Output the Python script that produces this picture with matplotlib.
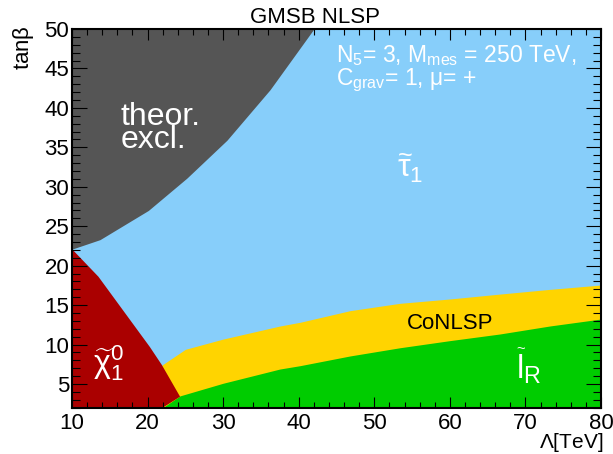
import matplotlib
matplotlib.use("Agg")
import matplotlib.pyplot as plt
from matplotlib.ticker import MultipleLocator

plt.rcParams['font.family'] = ['Liberation Sans', 'DejaVu Sans']
plt.rcParams['mathtext.fontset'] = 'custom'
plt.rcParams['mathtext.rm'] = 'Liberation Sans'
plt.rcParams['mathtext.it'] = 'Liberation Sans'
plt.rcParams['mathtext.bf'] = 'Liberation Sans:bold'

# plot range (Lambda in TeV, tan beta)
lam_min, lam_max = 10, 80
tb_min, tb_max = 2, 50

# theoretically excluded region: lower edge
theor_x = [10, 13.7, 20.1, 25.2, 30.5, 36.2, 42.0]
theor_y = [22.1, 23.3, 27.0, 31.1, 35.9, 42.3, 50.0]

# neutralino NLSP region: upper/right edge
chi_x = [10, 13.5, 20.3, 21.9, 24.3, 22.0]
chi_y = [22.1, 18.6, 9.7, 7.4, 3.4, 2.0]

# co-NLSP region: upper edge
co_x = [21.9, 25.0, 30.0, 37.5, 40.2, 46.8, 53.4, 60.0, 66.6, 73.25, 80]
co_y = [7.4, 9.4, 10.7, 12.35, 12.83, 14.3, 15.23, 15.78, 16.4, 17.0, 17.55]

# slepton NLSP region: upper edge
sl_x = [22.0, 24.3, 30.0, 37.5, 40.2, 46.8, 53.4, 60.0, 66.6, 73.25, 80]
sl_y = [2.0, 3.5, 5.1, 6.9, 7.33, 8.56, 9.6, 10.5, 11.34, 12.36, 13.24]

c_stau = '#87cefa'
c_theor = '#555555'
c_chi = '#aa0000'
c_co = '#ffd400'
c_sl = '#00cc00'

fig = plt.figure(figsize=(6.13, 4.54), dpi=100)
ax = fig.add_axes([72/613, 1 - 407.7/454, 529/613, 378.7/454])

ax.fill_between([lam_min, lam_max], tb_min, tb_max, color=c_stau, lw=0)
ax.fill_between(co_x, co_y, tb_min, color=c_co, lw=0)
ax.fill_between(sl_x, sl_y, tb_min, color=c_sl, lw=0)
ax.fill(chi_x + [lam_min], chi_y + [tb_min], color=c_chi, lw=0)
ax.fill_between(theor_x, theor_y, tb_max, color=c_theor, lw=0)

ax.set_xlim(lam_min, lam_max)
ax.set_ylim(tb_min, tb_max)

ax.xaxis.set_major_locator(MultipleLocator(10))
ax.xaxis.set_minor_locator(MultipleLocator(2))
ax.yaxis.set_major_locator(MultipleLocator(5))
ax.yaxis.set_minor_locator(MultipleLocator(1))
ax.tick_params(which='both', direction='in', top=True, right=True,
               color='black', width=0.8, labelsize=16)
ax.tick_params(axis='x', which='major', length=8, pad=4)
ax.tick_params(axis='x', which='minor', length=4)
ax.tick_params(axis='y', which='major', length=11, pad=2)
ax.tick_params(axis='y', which='minor', length=5.5)
for sp in ax.spines.values():
    sp.set_linewidth(1.5)

# region labels
ax.text(0.092, 0.685, 'theor.\nexcl.', transform=ax.transAxes, color='white',
        fontsize=23, va='baseline', linespacing=0.72)
ax.text(0.614, 0.607, r'$\widetilde{\tau}_1$', transform=ax.transAxes,
        color='white', fontsize=23, va='baseline')
ax.text(0.04, 0.092, r'$\widetilde{\chi}_1^0$', transform=ax.transAxes,
        color='white', fontsize=23, va='baseline')
ax.text(0.84, 0.078, r'$\widetilde{l}_R$', transform=ax.transAxes,
        color='white', fontsize=24, va='baseline')
ax.text(0.7146, 0.207, 'CoNLSP', transform=ax.transAxes, color='black',
        fontsize=16, ha='center', va='baseline')

# model parameters
ax.text(0.499, 0.913, r'N$_5$= 3, M$_{mes}$ = 250 TeV,', transform=ax.transAxes,
        color='white', fontsize=16.5, va='baseline')
ax.text(0.499, 0.852, r'C$_{grav}$= 1, $\mu$= +', transform=ax.transAxes,
        color='white', fontsize=16.5, va='baseline')

fig.text(0.514, 1 - 23/454, 'GMSB NLSP', ha='center', va='baseline', fontsize=16)
fig.text(23/613, 1 - 25/454, r'tan$\beta$', rotation=90, ha='center', va='top',
         fontsize=16)
fig.text(603/613, 1 - 448/454, r'$\Lambda$[TeV]', ha='right', va='baseline',
         fontsize=15)

fig.savefig('out.png', dpi=100)
